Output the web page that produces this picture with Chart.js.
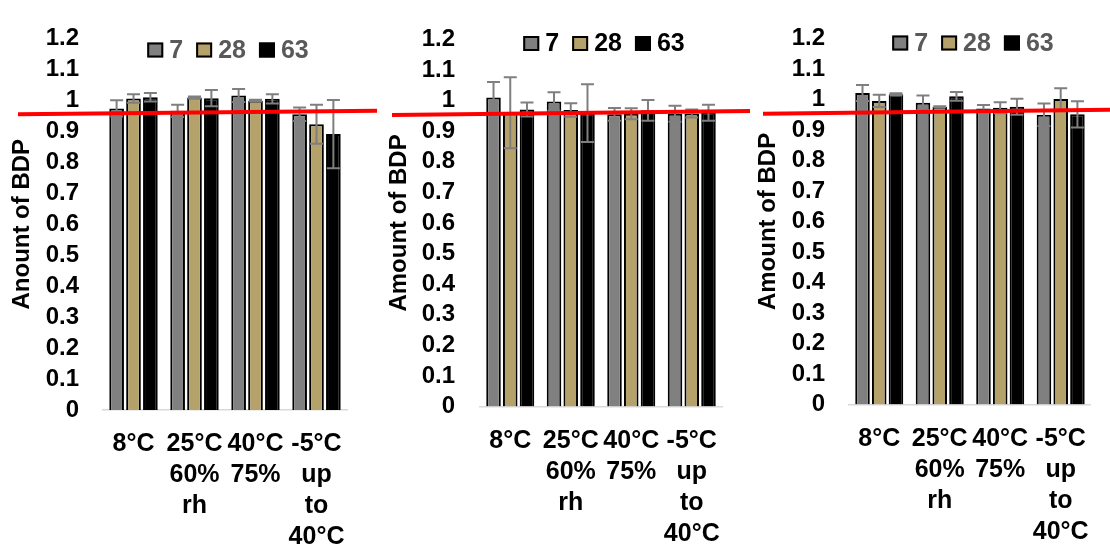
<!DOCTYPE html>
<html>
<head>
<meta charset="utf-8">
<title>Amount of BDP</title>
<script src="https://cdn.jsdelivr.net/npm/chart.js@4/dist/chart.umd.min.js"></script>
<style>
  html, body { margin: 0; padding: 0; background: #fff; }
  #wrap { position: relative; width: 1110px; height: 548px; overflow: hidden; }
  #wrap canvas { position: absolute; left: 0; top: 0; }
</style>
</head>
<body>
<div id="wrap">
  <canvas id="c1" width="1110" height="548"></canvas>
  <canvas id="c2" width="1110" height="548"></canvas>
  <canvas id="c3" width="1110" height="548"></canvas>
</div>
<script>
// Storage conditions (x categories), multi-line labels
const categories = [
  ['8°C'],
  ['25°C', '60%', 'rh'],
  ['40°C', '75%'],
  ['-5°C', 'up', 'to', '40°C']
];

// Sampling days (series)
const seriesNames = ['7', '28', '63'];

// Panel 1
const p1Day7  = [0.974, 0.966, 1.016, 0.955];
const p1Day28 = [1.006, 1.009, 0.999, 0.923];
const p1Day63 = [1.010, 1.007, 1.005, 0.891];
const p1Err7  = [0.026, 0.020, 0.021, 0.022];
const p1Err28 = [0.014, 0.003, 0.003, 0.063];
const p1Err63 = [0.014, 0.026, 0.015, 0.110];
const p1Ref   = [0.955, 0.966];

// Panel 2
const p2Day7  = [1.010, 0.997, 0.955, 0.957];
const p2Day28 = [0.960, 0.969, 0.957, 0.958];
const p2Day63 = [0.971, 0.959, 0.968, 0.960];
const p2Err7  = [0.051, 0.030, 0.021, 0.026];
const p2Err28 = [0.116, 0.022, 0.018, 0.013];
const p2Err63 = [0.023, 0.094, 0.034, 0.026];
const p2Ref   = [0.953, 0.966];

// Panel 3
const p3Day7  = [1.021, 0.989, 0.970, 0.950];
const p3Day28 = [0.995, 0.976, 0.973, 1.001];
const p3Day63 = [1.017, 1.010, 0.976, 0.951];
const p3Err7  = [0.026, 0.024, 0.012, 0.037];
const p3Err28 = [0.020, 0.002, 0.018, 0.036];
const p3Err63 = [0.003, 0.014, 0.026, 0.043];
const p3Ref   = [0.953, 0.966];

const FONT = '"Liberation Sans", Arial, Helvetica, sans-serif';
const seriesColors = ['#808080', '#b5a26a', '#000000'];
const W = 1110, H = 548;

// Symmetric error bars on top of each bar
const errorBars = {
  id: 'errorBars',
  afterDatasetsDraw(chart, args, opts) {
    const ctx = chart.ctx, y = chart.scales.y;
    ctx.save();
    ctx.strokeStyle = opts.color;
    ctx.lineWidth = opts.width;
    chart.data.datasets.forEach((ds, di) => {
      const meta = chart.getDatasetMeta(di);
      meta.data.forEach((bar, i) => {
        const v = ds.data[i], e = ds.errors[i];
        const x = bar.x;
        const yt = y.getPixelForValue(v + e);
        const yb = y.getPixelForValue(v - e);
        ctx.beginPath();
        ctx.moveTo(x, yt); ctx.lineTo(x, yb);
        ctx.moveTo(x - opts.cap, yt); ctx.lineTo(x + opts.cap, yt);
        ctx.moveTo(x - opts.cap, yb); ctx.lineTo(x + opts.cap, yb);
        ctx.stroke();
      });
    });
    ctx.restore();
  }
};

// Legend row placed inside the plot area, near the top
const innerLegend = {
  id: 'innerLegend',
  afterDraw(chart, args, opts) {
    const ctx = chart.ctx;
    ctx.save();
    ctx.font = 'bold ' + opts.size + 'px ' + FONT;
    const box = 16, boxH = 15, gap = 6, sep = 13;
    const items = chart.data.datasets.map(ds => ({ text: ds.label, fill: ds.backgroundColor }));
    let total = 0;
    items.forEach((it, i) => {
      it.w = ctx.measureText(it.text).width;
      total += box + gap + it.w + (i ? sep : 0);
    });
    const ca = chart.chartArea;
    let x = (ca.left + ca.right) / 2 + opts.dx - total / 2;
    const cy = opts.y;
    items.forEach(it => {
      ctx.fillStyle = it.fill;
      ctx.fillRect(x, cy - boxH / 2, box, boxH);
      ctx.strokeStyle = '#000';
      ctx.lineWidth = 2;
      ctx.strokeRect(x + 1, cy - boxH / 2 + 1, box - 2, boxH - 2);
      x += box + gap;
      ctx.fillStyle = opts.color;
      ctx.textAlign = 'left';
      ctx.textBaseline = 'middle';
      ctx.fillText(it.text, x, cy + 1);
      x += it.w + sep;
    });
    ctx.restore();
  }
};

// Red reference line drawn across the panel
const refLine = {
  id: 'refLine',
  afterDraw(chart, args, opts) {
    const ctx = chart.ctx, y = chart.scales.y;
    ctx.save();
    ctx.strokeStyle = '#ff0000';
    ctx.lineWidth = 4;
    ctx.beginPath();
    ctx.moveTo(opts.x0, y.getPixelForValue(opts.values[0]));
    ctx.lineTo(opts.x1, y.getPixelForValue(opts.values[1]));
    ctx.stroke();
    ctx.restore();
  }
};

function buildPanel(id, cfg) {
  const datasets = cfg.values.map((vals, k) => ({
    label: seriesNames[k],
    data: vals,
    errors: cfg.errors[k],
    backgroundColor: seriesColors[k],
    borderColor: '#000000',
    borderWidth: 2,
    categoryPercentage: 0.83,
    barPercentage: 0.87
  }));
  return new Chart(document.getElementById(id), {
    type: 'bar',
    data: { labels: categories, datasets },
    options: {
      responsive: false,
      animation: false,
      events: [],
      layout: {
        padding: { left: cfg.padLeft, right: W - cfg.plotRight, top: cfg.plotTop, bottom: 0 }
      },
      plugins: {
        legend: { display: false },
        tooltip: { enabled: false },
        errorBars: { color: '#7f7f7f', width: 2, cap: 6.5 },
        innerLegend: { y: cfg.legendY, dx: 3, size: 25, color: cfg.legendColor },
        refLine: { x0: cfg.refX0, x1: cfg.refX1, values: cfg.ref }
      },
      scales: {
        x: {
          grid: { display: false, drawTicks: false },
          border: { display: true, color: '#d9d9d9', width: 1.5 },
          ticks: {
            color: '#000',
            font: { family: FONT, size: 25, weight: 'bold', lineHeight: 1.24 },
            padding: 19,
            autoSkip: false,
            maxRotation: 0,
            minRotation: 0
          },
          afterFit: s => { s.height = H - cfg.plotBottom; }
        },
        y: {
          min: 0,
          max: 1.2,
          grid: { display: false, drawTicks: false },
          border: { display: false },
          ticks: {
            stepSize: 0.1,
            autoSkip: false,
            color: '#000',
            font: { family: FONT, size: 24, weight: 'bold' },
            padding: cfg.tickPad,
            callback: v => String(Math.round(v * 10) / 10)
          },
          title: {
            display: true,
            text: cfg.title,
            color: '#000',
            font: { family: FONT, size: 24, weight: 'bold' },
            padding: { top: cfg.titlePad, bottom: 0 }
          },
          afterFit: s => { s.width = cfg.plotLeft - cfg.padLeft; }
        }
      }
    },
    plugins: [errorBars, innerLegend, refLine]
  });
}

buildPanel('c1', {
  values: [p1Day7, p1Day28, p1Day63],
  errors: [p1Err7, p1Err28, p1Err63],
  ref: p1Ref, refX0: 18, refX1: 377,
  title: 'Anount of BDP',
  padLeft: 0, plotLeft: 103, plotRight: 347, plotTop: 30, plotBottom: 410,
  tickPad: 24, titlePad: 8, legendY: 50, legendColor: '#595959'
});

buildPanel('c2', {
  values: [p2Day7, p2Day28, p2Day63],
  errors: [p2Err7, p2Err28, p2Err63],
  ref: p2Ref, refX0: 392, refX1: 750,
  title: 'Amount of BDP',
  padLeft: 380, plotLeft: 480, plotRight: 722, plotTop: 28, plotBottom: 406.5,
  tickPad: 25, titlePad: 5, legendY: 43.5, legendColor: '#000000'
});

buildPanel('c3', {
  values: [p3Day7, p3Day28, p3Day63],
  errors: [p3Err7, p3Err28, p3Err63],
  ref: p3Ref, refX0: 763, refX1: 1110,
  title: 'Amount of BDP',
  padLeft: 749, plotLeft: 849, plotRight: 1091, plotTop: 26, plotBottom: 404.5,
  tickPad: 24, titlePad: 4.5, legendY: 43, legendColor: '#595959'
});
</script>
</body>
</html>
